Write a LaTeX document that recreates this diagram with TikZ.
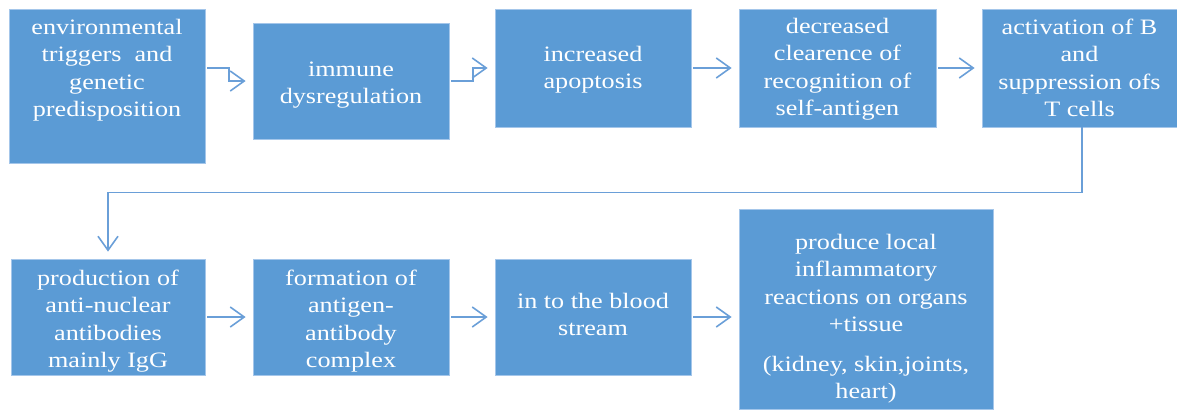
\documentclass[tikz,border=0pt]{standalone}
\usepackage{fontspec}
\setmainfont[FakeStretch=1.19]{Liberation Serif}
\usetikzlibrary{arrows.meta}
\definecolor{boxblue}{HTML}{5B9BD5}
\definecolor{edgeblue}{HTML}{A4C6EA}
\definecolor{arrowblue}{HTML}{6A9FD8}
\begin{document}
\begin{tikzpicture}[x=1pt,y=-1pt,
  box/.style={rectangle, fill=boxblue, draw=edgeblue, line width=0.8pt, inner sep=0pt},
  boxtext/.style={anchor=north, inner sep=0pt, align=center, text=white,
    font=\fontsize{22}{27.5}\selectfont, execute at begin node=\strut},
  conn/.style={draw=arrowblue, line width=1.6pt,
    -{Straight Barb[length=14pt,width=20pt,line width=1.6pt]},
    shorten >=7pt, shorten <=2pt}]
\useasboundingbox (0,0) rectangle (1177,410);
% boxes
\node[box, minimum width=196pt, minimum height=154pt] (b1) at (107,86) {};
\node[box, minimum width=196pt, minimum height=116pt] (b2) at (351,81) {};
\node[box, minimum width=196pt, minimum height=118pt] (b3) at (593,68) {};
\node[box, minimum width=197pt, minimum height=118pt] (b4) at (837.5,68) {};
\node[box, minimum width=195pt, minimum height=118pt] (b5) at (1079.5,68) {};
\node[box, minimum width=194pt, minimum height=116pt] (b6) at (108,317) {};
\node[box, minimum width=196pt, minimum height=116pt] (b7) at (351,317) {};
\node[box, minimum width=196pt, minimum height=116pt] (b8) at (593,317) {};
\node[box, minimum width=254pt, minimum height=200pt] (b9) at (866,309) {};
% texts
\node[boxtext] (t1) at (107,18.75) {environmental\\triggers\ \ and\\genetic\\predisposition};
\node[boxtext] (t2) at (351,61.5) {immune\\dysregulation};
\node[boxtext] (t3) at (593,45.75) {increased\\apoptosis};
\node[boxtext] (t4) at (837.5,17.75) {decreased\\clearence of\\recognition of\\self-antigen};
\node[boxtext] (t5) at (1079.5,18.75) {activation of B\\and\\suppression ofs\\T cells};
\node[boxtext] (t6) at (108,269.75) {production of\\anti-nuclear\\antibodies\\mainly IgG};
\node[boxtext] (t7) at (351,269.75) {formation of\\antigen-\\antibody\\complex};
\node[boxtext] (t8) at (593,292.75) {in to the blood\\stream};
\node[boxtext] (t9) at (866,233.75) {produce local\\inflammatory\\reactions on organs\\+tissue\\[12pt](kidney, skin,joints,\\heart)};
% connectors
\coordinate (k1) at (229,68);
\coordinate (k2) at (473,81);
\draw[conn] (b1.east |- b3.west) -- (k1) |- (b2.west);
\draw[conn] (b2.east) -- (k2) |- (b3.west);
\draw[conn] (b3.east) -- (b4.west);
\draw[conn] (b4.east) -- (b5.west);
\draw[conn, shorten <=0pt] ([xshift=2.5pt]b5.south) -- ++(0,65) -| (b6.north);
\draw[conn] (b6.east) -- (b7.west);
\draw[conn] (b7.east) -- (b8.west);
\draw[conn] (b8.east) -- (b9.west |- b8.east);
\end{tikzpicture}
\end{document}
